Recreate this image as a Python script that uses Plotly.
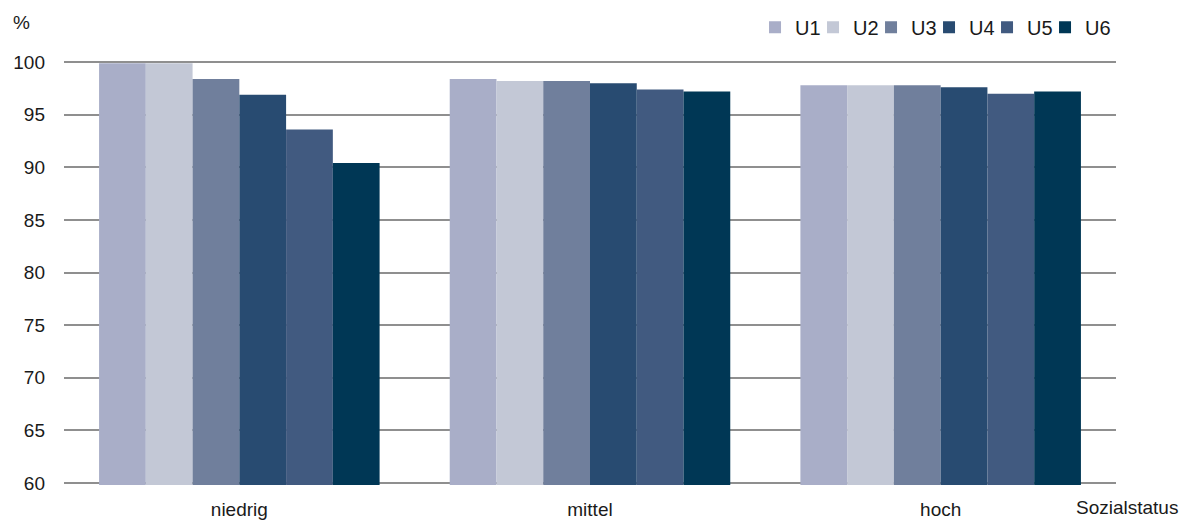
import plotly.graph_objects as go

# Sozialstatus groups and examination series
categories = ["niedrig", "mittel", "hoch"]
series_names = ["U1", "U2", "U3", "U4", "U5", "U6"]

u1 = [99.9, 98.4, 97.8]
u2 = [99.9, 98.2, 97.8]
u3 = [98.4, 98.2, 97.8]
u4 = [96.9, 98.0, 97.6]
u5 = [93.6, 97.4, 97.0]
u6 = [90.4, 97.2, 97.2]

series_values = [u1, u2, u3, u4, u5, u6]
colors = ["#A9AEC8", "#C3C8D6", "#707F9C", "#284B71", "#415A80", "#003755"]

y_ticks = [60, 65, 70, 75, 80, 85, 90, 95, 100]

FONT = "Liberation Sans, Arial, sans-serif"

fig = go.Figure()
for name, vals, col in zip(series_names, series_values, colors):
    fig.add_trace(go.Bar(
        name=name,
        x=categories,
        y=vals,
        marker=dict(color=col, line=dict(width=0)),
        hoverinfo="x+y+name",
    ))

# blank spacer entry so the compact legend keeps room for the last label
fig.add_trace(go.Scatter(
    x=[None], y=[None], mode="markers", name=" ",
    marker=dict(color="rgba(0,0,0,0)", size=1),
    showlegend=True, hoverinfo="skip",
))

fig.update_layout(
    width=1188,
    height=520,
    margin=dict(l=64, r=72, t=60, b=35, autoexpand=False),
    paper_bgcolor="white",
    plot_bgcolor="white",
    barmode="group",
    bargap=0.2,
    bargroupgap=0,
    font=dict(family=FONT, size=19, color="#1a1a1a"),
    showlegend=True,
    legend=dict(
        orientation="h",
        x=1.0428, xanchor="right",
        y=1.077, yanchor="middle",
        font=dict(size=20, family=FONT, color="#1a1a1a"),
        bgcolor="rgba(0,0,0,0)",
        itemclick=False,
        entrywidth=13,
        tracegroupgap=0,
    ),
    xaxis=dict(
        type="category",
        showgrid=False,
        showline=False,
        ticks="",
        ticklabelstandoff=11,
        tickfont=dict(size=19, family=FONT, color="#1a1a1a"),
    ),
    yaxis=dict(
        # small padding so the 60 and 100 gridlines are not clipped at the edges
        range=[59.8, 100.2],
        tickmode="array",
        tickvals=y_ticks,
        ticktext=[str(v) for v in y_ticks],
        showgrid=True,
        gridcolor="#8F8F8F",
        gridwidth=2,
        zeroline=False,
        showline=False,
        ticks="",
        ticklabelstandoff=18,
        tickfont=dict(size=19, family=FONT, color="#1a1a1a"),
    ),
    annotations=[
        dict(text="%", xref="paper", yref="paper", x=-0.04, y=1.089,
             xanchor="center", yanchor="middle", showarrow=False,
             font=dict(size=19, family=FONT, color="#1a1a1a")),
        dict(text="Sozialstatus", xref="paper", yref="paper", x=1.0608, y=-0.052,
             xanchor="right", yanchor="middle", showarrow=False,
             font=dict(size=19, family=FONT, color="#1a1a1a")),
    ],
)

fig.write_html("out.html")
